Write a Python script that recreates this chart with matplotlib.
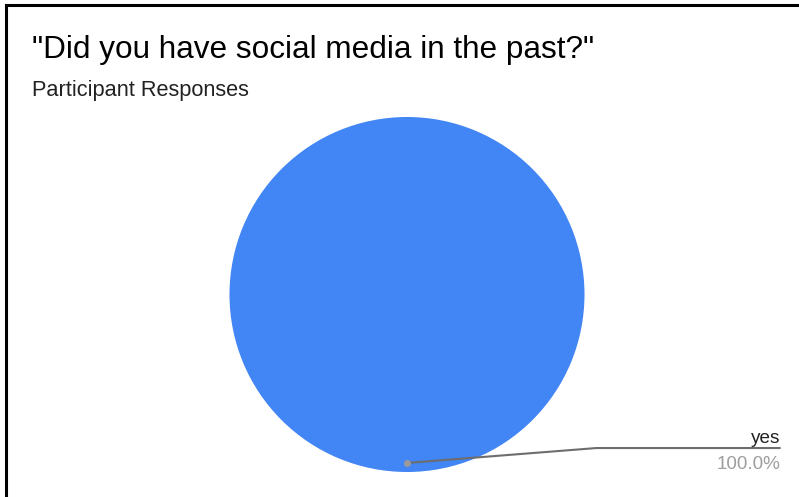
import matplotlib.pyplot as plt
from matplotlib.lines import Line2D

plt.rcParams['font.family'] = ['Liberation Sans', 'DejaVu Sans']

title = '"Did you have social media in the past?"'
subtitle = 'Participant Responses'
labels = ['yes']
counts = [1]

W, H = 799, 497
fig = plt.figure(figsize=(W / 100, H / 100), dpi=100)

# frame lines at top and left edge
fig.add_artist(Line2D([6 / W, 6 / W], [0, 1 - 4.5 / H], color='black', lw=2.2))
fig.add_artist(Line2D([6 / W, 1], [1 - 4.5 / H, 1 - 4.5 / H], color='black', lw=2.2))

fig.text(32 / W, 1 - 58 / H, title, fontsize=22.7, color='#000000', va='baseline')
fig.text(32 / W, 1 - 96 / H, subtitle, fontsize=15.7, color='#222222', va='baseline')

# pie box in pixels: x 229..585, y 117..472
ax = fig.add_axes([229 / W, (H - 472) / H, 356 / W, 355 / H])
ax.pie(counts, colors=['#4285f4'], startangle=90, counterclock=False,
       wedgeprops=dict(linewidth=0))
ax.set_xlim(-1, 1)
ax.set_ylim(-1, 1)
ax.axis('off')

total = sum(counts)
pct = counts[0] / total * 100

# leader line from the slice to the label
px, py = 0.0, -0.949
kx, ky = 1.067, -0.865
ex = 2.105
ax.plot([px, kx, ex], [py, ky, ky], color='#6d6d6d', lw=1.5, clip_on=False,
        solid_capstyle='butt')
ax.plot([px], [py], 'o', color='#9a9a9a', ms=4, clip_on=False)
ax.text(ex, -0.837, labels[0], ha='right', va='baseline', fontsize=13.6,
        color='#222222', clip_on=False)
ax.text(ex, -0.983, f'{pct:.1f}%', ha='right', va='baseline', fontsize=13.6,
        color='#9e9e9e', clip_on=False)

fig.savefig('out.png', dpi=100)
